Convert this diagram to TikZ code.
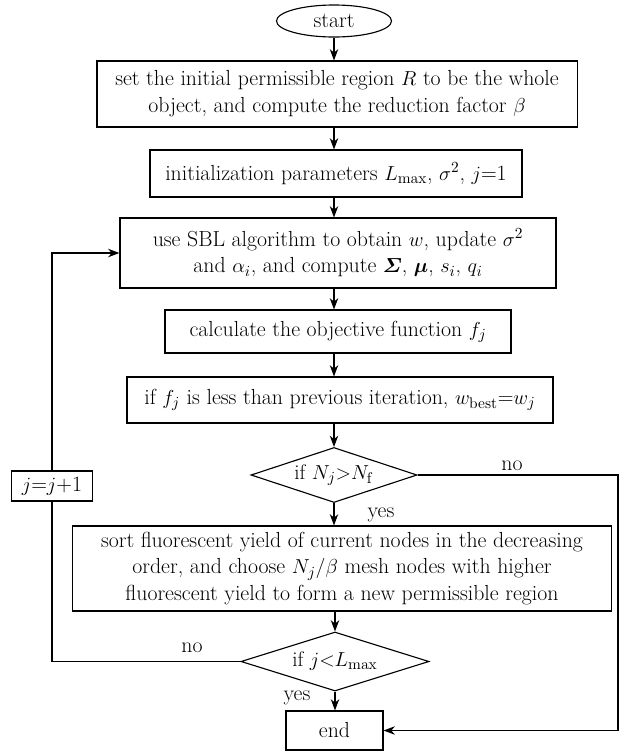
\documentclass[tikz,border=0pt]{standalone}
\usepackage{amsmath}
\usepackage{bm}
\usetikzlibrary{arrows.meta,shapes.geometric}

\begin{document}
\begin{tikzpicture}[x=0.025cm, y=-0.025cm, line width=0.8pt]
		\tikzstyle{es} = [-{Stealth[length=8pt, width=6pt, inset=2.5pt]}]
		\tikzstyle{blk} = [draw, align=center, inner sep=2pt, font=\fontsize{15.5}{19}\selectfont]
		\tikzstyle{dmd} = [draw, diamond, aspect=3, inner sep=0pt, font=\fontsize{15}{17}\selectfont]
		\tikzstyle{lbl} = [font=\fontsize{15.5}{17}\selectfont]
		\useasboundingbox (0,0) rectangle (620,751);
		\node [blk, ellipse, minimum width=2.875cm, minimum height=0.8cm] (s) at (334,21) {start};
		\node [blk, minimum width=12cm, minimum height=1.65cm] (b1) at (337,94) {set the initial permissible region $R$ to be the whole\\object, and compute the reduction factor $\beta$};
		\node [blk, minimum width=9.3cm, minimum height=1.175cm] (b2) at (336,173.5) {initialization parameters $L_{\mathrm{max}}$, $\sigma^2$, $j$=1};
		\node [blk, minimum width=10.9cm, minimum height=1.75cm] (b3) at (338,253) {use SBL algorithm to obtain $w$, update $\sigma^2$\\and $\alpha_i$, and compute $\boldsymbol{\varSigma}$, $\boldsymbol{\mu}$, $s_i$, $q_i$};
		\node [blk, minimum width=8.65cm, minimum height=1.075cm] (b4) at (338,331.5) {calculate the objective function $f_j$};
		\node [blk, minimum width=10.65cm, minimum height=1.15cm] (b5) at (340,400) {if $f_j$ is less than previous iteration, $w_{\mathrm{best}}$=$w_j$};
		\node [dmd, minimum width=4.15cm, minimum height=1.375cm] (d1) at (334,475) {if $N_j{>}N_{\mathrm{f}}$};
		\node [blk, minimum width=13.45cm, minimum height=2.125cm] (b6) at (342,568.5) {sort fluorescent yield of current nodes in the decreasing\\order, and choose $N_j/\beta$ mesh nodes with higher\\fluorescent yield to form a new permissible region};
		\node [dmd, minimum width=4.7cm, minimum height=1.475cm] (d2) at (335,661.5) {if $j{<}L_{\mathrm{max}}$};
		\node [blk, minimum width=2.425cm, minimum height=0.975cm] (e) at (334.5,730.5) {end};
		\node [blk, minimum width=2.025cm, minimum height=0.75cm] (j) at (52,486) {$j$=$j$+1};
		\node [lbl] (no1) at (512,466) {no};
		\node [lbl] (yes1) at (381,515) {yes};
		\node [lbl] (no2) at (192,648) {no};
		\node [lbl] (yes2) at (297,698) {yes};
		\coordinate (r) at (618,475);
		\draw [es] (s.south) -- (b1.north -| s);
		\draw [es] (b1.south -| s) -- (b2.north -| s);
		\draw [es] (b2.south -| s) -- (b3.north -| s);
		\draw [es] (b3.south -| s) -- (b4.north -| s);
		\draw [es] (b4.south -| s) -- (b5.north -| s);
		\draw [es] (b5.south -| d1) -- (d1.north);
		\draw [es] (d1.south) -- (b6.north -| d1);
		\draw [es] (b6.south -| d2) -- (d2.north);
		\draw [es] (d2.south) -- (e.north -| d2);
		\draw (d2.west) -| (j.south);
		\draw [es] (j.north) |- (b3.west);
		\draw [es] (d1.east) -- (r) |- (e.east);
\end{tikzpicture}
\end{document}
